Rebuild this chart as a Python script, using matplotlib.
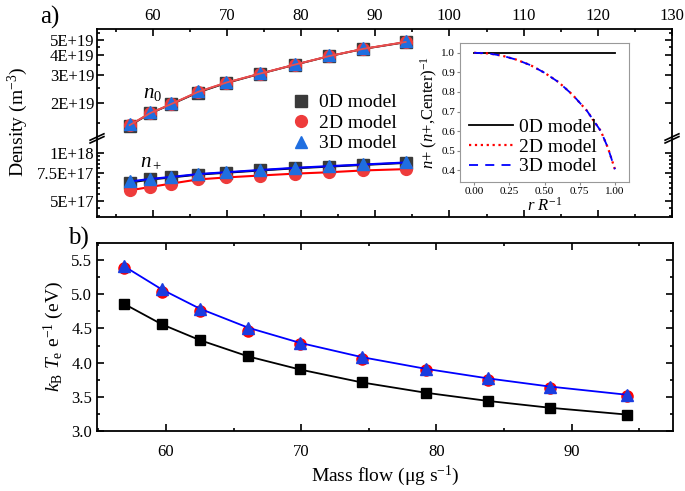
import numpy as np
import matplotlib
matplotlib.use('Agg')
import matplotlib.pyplot as plt
from matplotlib.ticker import FixedLocator, FixedFormatter, MultipleLocator, LogLocator, NullFormatter
from matplotlib.lines import Line2D

plt.rcParams['font.family'] = ['Liberation Serif', 'DejaVu Serif']
plt.rcParams['mathtext.fontset'] = 'custom'
plt.rcParams['mathtext.rm'] = 'Liberation Serif'
plt.rcParams['mathtext.it'] = 'Liberation Serif:italic'
plt.rcParams['mathtext.bf'] = 'Liberation Serif:bold'

# mass flow (ug/s)
flow = [56.9, 59.7, 62.5, 66.1, 69.9, 74.5, 79.2, 83.8, 88.4, 94.1]

# neutral density n0 (m^-3)
n0_0d = np.array([1.44, 1.72, 1.96, 2.33, 2.67, 3.06, 3.49, 3.95, 4.39, 4.84]) * 1e19
n0_2d = np.array([1.45, 1.73, 1.97, 2.35, 2.69, 3.07, 3.50, 3.96, 4.40, 4.86]) * 1e19
n0_3d = np.array([1.47, 1.76, 2.00, 2.38, 2.72, 3.10, 3.54, 4.00, 4.44, 4.90]) * 1e19

# ion density n+ (m^-3)
np_0d = np.array([6.5, 6.8, 7.0, 7.3, 7.5, 7.75, 8.0, 8.2, 8.4, 8.65]) * 1e17
np_2d = np.array([5.8, 6.1, 6.4, 6.8, 7.0, 7.2, 7.4, 7.55, 7.75, 7.9]) * 1e17
np_3d = np.array([6.6, 6.85, 7.05, 7.35, 7.55, 7.8, 8.05, 8.25, 8.45, 8.7]) * 1e17

# electron temperature (eV)
te_0d = [4.86, 4.56, 4.33, 4.09, 3.90, 3.71, 3.56, 3.44, 3.34, 3.24]
te_2d = [5.39, 5.04, 4.76, 4.47, 4.27, 4.06, 3.89, 3.75, 3.63, 3.51]
te_3d = [5.41, 5.07, 4.79, 4.51, 4.29, 4.08, 3.91, 3.77, 3.65, 3.53]

# radial ion profile (inset)
r = [0.0, 0.1, 0.2, 0.3, 0.4, 0.5, 0.6, 0.7, 0.8, 0.9, 0.95, 1.0]
prof_0d = [1.0] * len(r)
prof_2d = [1.0, 0.997, 0.985, 0.965, 0.937, 0.898, 0.85, 0.785, 0.705, 0.6, 0.515, 0.405]
prof_3d = prof_2d

models = ['0D model', '2D model', '3D model']
c_sq, c_ci, c_tr = '#3a3a3a', '#ee3b3b', '#1f6ee0'

fig = plt.figure(figsize=(6.85, 4.91), dpi=100)
W, H = 685, 491

def box(l, r_, t, b):
    return [l / W, 1 - b / H, (r_ - l) / W, (b - t) / H]

ax_up = fig.add_axes(box(97, 672, 29, 137))
ax_lo = fig.add_axes(box(97, 672, 137, 217))

for ax in (ax_up, ax_lo):
    ax.set_yscale('log')
    ax.set_xlim(52.5, 130)
    ax.xaxis.set_major_locator(MultipleLocator(10))
    ax.xaxis.set_minor_locator(MultipleLocator(5))
    ax.tick_params(which='both', direction='in', top=True, right=True, labelsize=12, width=1.2)
    ax.tick_params(which='major', length=5)
    ax.tick_params(which='minor', length=2.5)
    for s in ax.spines.values():
        s.set_linewidth(1.3)
    ax.yaxis.set_minor_locator(LogLocator(base=10, subs=np.arange(1.0, 10.0, 0.5)))
    ax.yaxis.set_minor_formatter(NullFormatter())

ax_up.set_ylim(1.22e19, 5.87e19)
ax_lo.set_ylim(3.94e17, 1.26e18)
ax_up.spines['bottom'].set_visible(False)
ax_lo.spines['top'].set_visible(False)
ax_up.tick_params(axis='x', which='both', bottom=False, labelbottom=False, labeltop=True)
ax_lo.tick_params(axis='x', which='both', top=False, labelbottom=False)

ax_up.yaxis.set_major_locator(FixedLocator([2e19, 3e19, 4e19, 5e19]))
ax_up.yaxis.set_major_formatter(FixedFormatter(['2E+19', '3E+19', '4E+19', '5E+19']))
ax_lo.yaxis.set_major_locator(FixedLocator([5e17, 7.5e17, 1e18]))
ax_lo.yaxis.set_major_formatter(FixedFormatter(['5E+17', '7.5E+17', '1E+18']))
ax_up.tick_params(axis='y', pad=2)
ax_lo.tick_params(axis='y', pad=2)

ms = 8.5
ax_up.plot(flow, n0_0d, '-s', color='k', mfc=c_sq, mec=c_sq, ms=ms, lw=1.3)
ax_up.plot(flow, n0_2d, '-o', color='#e83030', mfc=c_ci, mec=c_ci, ms=ms, lw=1.3)
ax_up.plot(flow, n0_3d, '^', color=c_tr, ms=ms + 0.5)
ax_up.plot(flow, n0_2d, '-', color='#e85050', lw=1.3)
ax_lo.plot(flow, np_0d, '-s', color='k', mfc=c_sq, mec=c_sq, ms=ms, lw=1.5)
ax_lo.plot(flow, np_2d, '-o', color='red', mfc=c_ci, mec=c_ci, ms=ms, lw=1.5)
ax_lo.plot(flow, np_3d, '-^', color='blue', mfc=c_tr, mec=c_tr, ms=ms + 0.5, lw=1.5)

# break marks on the axis
for ax_x in (0, 1):
    for dy in (-0.035, 0.0):
        ax_lo.plot([ax_x - 0.012, ax_x + 0.012], [1.0 + dy - 0.04, 1.0 + dy + 0.04],
                   transform=ax_lo.transAxes, color='k', lw=1.2, clip_on=False)

ax_up.text(61.3, 2.15e19, '$n_0$', fontsize=15, ha='right')
ax_lo.text(61.3, 8.3e17, '$n_+$', fontsize=15, ha='right')

handles = [Line2D([], [], ls='', marker='s', color=c_sq, ms=ms),
           Line2D([], [], ls='', marker='o', color=c_ci, ms=ms),
           Line2D([], [], ls='', marker='^', color=c_tr, ms=ms + 0.5)]
fig.legend(handles, models, loc='upper left', bbox_to_anchor=(280 / W, 1 - 84 / H),
           frameon=False, fontsize=14, handletextpad=0.3, labelspacing=0.15,
           borderpad=0, handlelength=1.2)

fig.text(18 / W, 1 - 122 / H, 'Density (m$^{-3}$)', rotation=90, ha='center', va='center', fontsize=14)
fig.text(50 / W, 1 - 17 / H, 'a)', fontsize=18, ha='center', va='center')

# inset
ax_in = fig.add_axes(box(460, 629, 43, 182))
ax_in.plot(r, prof_0d, '-', color='k', lw=1.3, label=models[0])
ax_in.plot(r, prof_2d, ':', color='red', lw=1.6, label=models[1])
ax_in.plot(r, prof_3d, '--', color='blue', lw=1.3, dashes=(5, 4), label=models[2])
ax_in.set_xlim(-0.1, 1.1)
ax_in.set_ylim(0.34, 1.05)
ax_in.xaxis.set_major_locator(FixedLocator([0, 0.25, 0.5, 0.75, 1.0]))
ax_in.yaxis.set_major_locator(MultipleLocator(0.1))
ax_in.tick_params(labelsize=8, direction='out', length=2, color='#888888', pad=1.5)
ax_in.xaxis.set_major_formatter(FixedFormatter(['0.00', '0.25', '0.50', '0.75', '1.00']))
for s in ax_in.spines.values():
    s.set_color('#999999')
ax_in.set_xlabel('$r$ $R^{-1}$', fontsize=12, labelpad=1)
ax_in.set_ylabel('$n$+ ($n$+,Center)$^{-1}$', fontsize=12, labelpad=1)
ax_in.legend(loc='lower left', bbox_to_anchor=(-0.03, -0.05), frameon=False, fontsize=14,
             handlelength=2.3, handletextpad=0.3, labelspacing=0.1, borderpad=0.2)

# panel b
ax_b = fig.add_axes(box(97, 673, 243, 431))
ax_b.plot(flow, te_0d, '-s', color='k', ms=7, lw=1.3)
ax_b.plot(flow, te_2d, 'o', color='red', ms=8)
ax_b.plot(flow, te_3d, '-^', color='blue', mfc='#1a3ce0', mec='#1a3ce0', ms=8.5, lw=1.3)
ax_b.set_xlim(54.9, 97.5)
ax_b.set_ylim(3.0, 5.75)
ax_b.xaxis.set_major_locator(MultipleLocator(10))
ax_b.xaxis.set_minor_locator(MultipleLocator(5))
ax_b.yaxis.set_major_locator(MultipleLocator(0.5))
ax_b.yaxis.set_minor_locator(MultipleLocator(0.25))
ax_b.yaxis.set_major_formatter(matplotlib.ticker.FormatStrFormatter('%.1f'))
ax_b.tick_params(which='both', direction='in', top=True, right=True, labelsize=12, width=1.2)
ax_b.tick_params(which='major', length=5)
ax_b.tick_params(which='minor', length=2.5)
ax_b.tick_params(axis='x', pad=9)
for s in ax_b.spines.values():
    s.set_linewidth(1.3)
ax_b.set_ylabel('$k_\\mathrm{B}$ $T_\\mathrm{e}$ e$^{-1}$ (eV)', fontsize=14, labelpad=4)
ax_b.set_xlabel('Mass flow (\u03bcg s$^{-1}$)', fontsize=14, labelpad=3)
fig.text(78 / W, 1 - 238 / H, 'b)', fontsize=18, ha='center', va='center')

fig.savefig('out.png', dpi=100)
